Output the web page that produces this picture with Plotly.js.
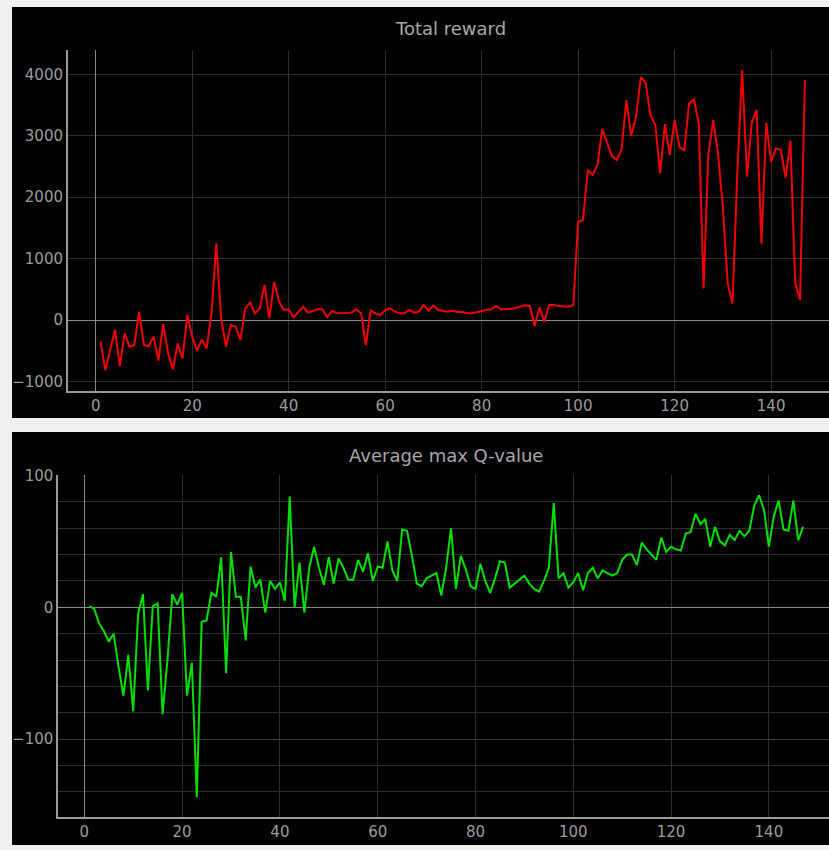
<!DOCTYPE html>
<html>
<head>
<meta charset="utf-8">
<script src="https://cdn.plot.ly/plotly-3.0.1.min.js"></script>
<style>
html,body{margin:0;padding:0;background:#f1f0ef;}
#chart{width:829px;height:850px;}
</style>
</head>
<body>
<div id="chart"></div>
<script>
// Episode index
const episodes = Array.from({length: 147}, (_, k) => k + 1);

// Total reward per episode
const totalReward = [
  -353, -815, -490, -163, -750, -217, -434, -407, 136, -407,
  -424, -271, -662, -65, -543, -803, -380, -624, 81, -271,
  -500, -315, -461, 108, 1249, 27, -434, -81, -108, -326,
  190, 282, 108, 190, 570, 27, 624, 299, 163, 174,
  43, 136, 217, 119, 152, 174, 174, 44, 152, 109,
  109, 109, 120, 174, 109, -407, 152, 109, 81, 163,
  190, 136, 109, 109, 163, 120, 136, 244, 152, 239,
  163, 147, 136, 152, 130, 130, 109, 109, 130, 152,
  163, 174, 228, 174, 174, 179, 195, 217, 239, 228,
  -98, 206, -30, 244, 244, 228, 217, 217, 244, 1600,
  1628, 2442, 2360, 2523, 3109, 2876, 2670, 2605, 2778, 3581,
  2995, 3310, 3961, 3852, 3337, 3174, 2387, 3190, 2686, 3256,
  2822, 2756, 3527, 3592, 3201, 515, 2713, 3256, 2700, 1845,
  597, 271, 2400, 4070, 2333, 3228, 3418, 1248, 3212, 2577,
  2794, 2767, 2317, 2919, 597, 326, 3907
];

// Average max Q-value per episode
const avgMaxQ = [
  1, -1, -12, -18, -26, -20, -45, -67, -36, -79,
  -5, 10, -63, 1, 3, -81, -40, 10, 2, 11,
  -67, -42, -144, -11, -10, 11, 8, 38, -50, 42,
  8, 8, -25, 31, 15, 21, -4, 20, 14, 19,
  5, 84, 0, 34, -4, 30, 46, 30, 17, 38,
  18, 37, 30, 21, 21, 36, 27, 41, 20, 31,
  30, 50, 28, 20, 59, 58, 39, 18, 16, 22,
  24, 26, 9, 30, 60, 14, 39, 29, 16, 14,
  33, 20, 11, 22, 35, 34, 15, 18, 21, 24,
  18, 14, 12, 20, 30, 79, 22, 26, 15, 19,
  26, 13, 26, 30, 22, 28, 26, 24, 26, 36,
  40, 40, 32, 49, 44, 40, 36, 53, 42, 46,
  44, 43, 56, 57, 71, 63, 67, 46, 61, 50,
  47, 55, 51, 58, 54, 58, 77, 85, 74, 46,
  69, 81, 59, 58, 81, 51, 61
];

const xTicks = [0, 20, 40, 60, 80, 100, 120, 140];
const rewardTicks = [-1000, 0, 1000, 2000, 3000, 4000];
const qTicks = [-100, 0, 100];

const W = 829, H = 850;
const px = v => v / W;
const py = v => 1 - v / H;

const tickFont = {family: 'DejaVu Sans, sans-serif', size: 15, color: '#9c9c9c'};
const titleFont = {family: 'DejaVu Sans, sans-serif', size: 18, color: '#a8a8a8'};
const gridC = '#2e2e2e';
const axisC = '#9a9a9a';

const traces = [
  {x: episodes, y: totalReward, type: 'scatter', mode: 'lines',
   line: {color: '#f00000', width: 2}, xaxis: 'x', yaxis: 'y', hoverinfo: 'skip'},
  {x: episodes, y: avgMaxQ, type: 'scatter', mode: 'lines',
   line: {color: '#00e000', width: 2}, xaxis: 'x2', yaxis: 'y2', hoverinfo: 'skip'}
];

const baseX = {
  tickvals: xTicks, ticks: '', showgrid: true, gridcolor: gridC, gridwidth: 1,
  zeroline: true, zerolinecolor: '#8a8a8a', zerolinewidth: 1,
  showline: true, linecolor: axisC, linewidth: 2,
  tickfont: tickFont, fixedrange: true, automargin: false
};
const layout = {
  width: W, height: H,
  margin: {l: 0, r: 0, t: 0, b: 0},
  paper_bgcolor: '#f1f0ef', plot_bgcolor: 'rgba(0,0,0,0)',
  showlegend: false,
  xaxis: Object.assign({}, baseX, {domain: [px(68), 1], range: [-5.74, 152.0], anchor: 'y'}),
  yaxis: {domain: [py(391), py(50)], range: [-1156, 4397], anchor: 'x',
    tickvals: rewardTicks, ticks: '', showgrid: true, gridcolor: gridC,
    zeroline: true, zerolinecolor: '#8a8a8a', zerolinewidth: 1,
    showline: true, linecolor: axisC, linewidth: 2, tickfont: tickFont,
    fixedrange: true, automargin: false},
  xaxis2: Object.assign({}, baseX, {domain: [px(58.3), 1], range: [-5.32, 152.3], anchor: 'y2'}),
  yaxis2: {domain: [py(817.3), py(475.2)], range: [-159.2, 100.2], anchor: 'x2',
    tickvals: qTicks, ticks: '', showgrid: true, gridcolor: '#3a3a3a',
    minor: {dtick: 20, tick0: 0, showgrid: true, gridcolor: gridC, ticks: ''},
    zeroline: true, zerolinecolor: '#8a8a8a', zerolinewidth: 1,
    showline: true, linecolor: axisC, linewidth: 2, tickfont: tickFont,
    fixedrange: true, automargin: false},
  shapes: [
    {type: 'rect', xref: 'paper', yref: 'paper', x0: px(12), x1: 1, y0: py(418), y1: py(7),
     fillcolor: '#000000', line: {width: 0}, layer: 'below'},
    {type: 'rect', xref: 'paper', yref: 'paper', x0: px(12), x1: 1, y0: py(845), y1: py(432),
     fillcolor: '#000000', line: {width: 0}, layer: 'below'}
  ],
  annotations: [
    {text: 'Total reward', xref: 'paper', yref: 'paper', x: px(450), y: py(28),
     xanchor: 'center', yanchor: 'middle', showarrow: false, font: titleFont},
    {text: 'Average max Q-value', xref: 'paper', yref: 'paper', x: px(446), y: py(455),
     xanchor: 'center', yanchor: 'middle', showarrow: false, font: titleFont}
  ]
};

Plotly.newPlot('chart', traces, layout, {displayModeBar: false, staticPlot: true});
</script>
</body>
</html>
